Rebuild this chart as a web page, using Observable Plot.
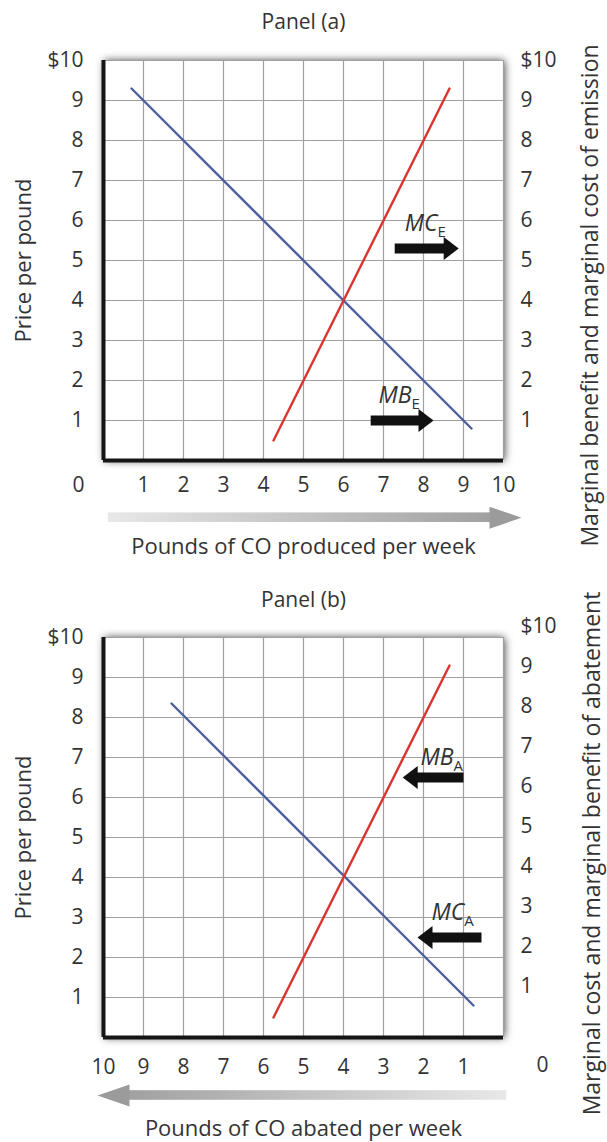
<!DOCTYPE html>
<html>
<head>
<meta charset="utf-8">
<script src="https://cdn.jsdelivr.net/npm/d3@7"></script>
<script src="https://cdn.jsdelivr.net/npm/@observablehq/plot@0.6"></script>
<style>
  html, body { margin: 0; padding: 0; background: #fff; }
  svg { display: block; }
</style>
</head>
<body>
<div id="chart"></div>
<script>
// ---------- data ----------
const priceTicks = [1, 2, 3, 4, 5, 6, 7, 8, 9, 10];
const quantityTicks = [1, 2, 3, 4, 5, 6, 7, 8, 9, 10];
const gridValues = [0, 1, 2, 3, 4, 5, 6, 7, 8, 9, 10];

// Panel (a): pounds of CO produced (q) vs price per pound (p)
const mbEmission = [{q: 0.7, p: 9.3}, {q: 9.2, p: 0.8}];
const mcEmission = [{q: 4.25, p: 0.5}, {q: 8.65, p: 9.3}];
const labelsA = [
  {main: "MC", sub: "E", q: 8.35, p: 5.93},
  {main: "MB", sub: "E", q: 7.7, p: 1.63}
];
const arrowsA = [
  {from: 7.28, to: 8.88, p: 5.3},
  {from: 6.68, to: 8.25, p: 1.0}
];
const flowA = [{from: 0.12, to: 10.45, p: -1.43}];

// Panel (b): pounds of CO abated (q) vs price per pound (p)
const mcAbatement = [{q: 8.3, p: 8.35}, {q: 0.75, p: 0.8}];
const mbAbatement = [{q: 5.75, p: 0.5}, {q: 1.35, p: 9.3}];
const labelsB = [
  {main: "MB", sub: "A", q: 1.25, p: 7.0},
  {main: "MC", sub: "A", q: 0.98, p: 3.13}
];
const arrowsB = [
  {from: 1.0, to: 2.52, p: 6.5},
  {from: 0.55, to: 2.15, p: 2.5}
];
const flowB = [{from: -0.08, to: 10.15, p: -1.45}];

// ---------- styles ----------
const BLUE = "#4f5e9e";
const RED = "#d8352e";
const GRID = "#a0a0a0";
const INK = "#333333";
const FONT = "Open Sans";

function headSymbol(len, half, dir) {
  return {
    draw(ctx) {
      ctx.moveTo(0, 0);
      ctx.lineTo(-dir * len, -half);
      ctx.lineTo(-dir * len, half);
      ctx.closePath();
    }
  };
}

function panel(cfg) {
  const dir = cfg.reverse ? -1 : 1;
  const blackHead = headSymbol(15, 11.5, dir);
  const grayHead = headSymbol(32, 11, dir);
  const fmtPrice = d => (d === 10 ? "$10" : String(d));
  const T = {fill: INK, lineAnchor: "middle"};
  const svg = Plot.plot({
    width: 607,
    height: cfg.height,
    marginTop: cfg.marginTop,
    marginBottom: cfg.marginBottom,
    marginLeft: 103,
    marginRight: 104,
    style: {fontFamily: FONT, background: "white", overflow: "visible"},
    x: {domain: cfg.reverse ? [10, 0] : [0, 10], axis: null},
    y: {domain: [0, 10], axis: null},
    marks: [
      Plot.frame({fill: "white", stroke: "none"}),
      Plot.ruleX(gridValues, {stroke: GRID, strokeWidth: 1.2}),
      Plot.ruleY(gridValues, {stroke: GRID, strokeWidth: 1.2}),
      Plot.ruleX([cfg.reverse ? 10 : 0], {stroke: "#151515", strokeWidth: 4}),
      Plot.ruleY([0], {stroke: "#151515", strokeWidth: 4}),
      Plot.line(cfg.blue, {x: "q", y: "p", stroke: BLUE, strokeWidth: 2.4}),
      Plot.line(cfg.red, {x: "q", y: "p", stroke: RED, strokeWidth: 2.4}),
      // black annotation arrows
      Plot.link(cfg.arrows, {x1: "from", x2: d => d.to - 0.3, y1: "p", y2: "p", stroke: "#111", strokeWidth: 10}),
      Plot.dot(cfg.arrows, {x: "to", y: "p", symbol: blackHead, fill: "#111", stroke: "none", r: 5}),
      // curve labels
      Plot.text(cfg.labels, {...T, x: "q", y: "p", text: "main", textAnchor: "end", fontStyle: "italic", fontSize: 23}),
      Plot.text(cfg.labels, {...T, x: "q", y: "p", text: "sub", textAnchor: "start", dy: 9, fontSize: 15}),
      // gray direction arrow under the x axis
      Plot.rect(cfg.flow, {x1: "from", x2: d => d.to - 0.7, y1: d => d.p - 0.12, y2: d => d.p + 0.12, fill: `url(#flow${cfg.id})`}),
      Plot.dot(cfg.flow, {x: "to", y: "p", symbol: grayHead, fill: "#9b9b9b", stroke: "none", r: 5}),
      // tick labels
      Plot.text(priceTicks, {...T, y: d => d, text: fmtPrice, frameAnchor: "left", textAnchor: "end", dx: -20, fontSize: 21}),
      Plot.text(priceTicks, {...T, y: d => d, text: fmtPrice, frameAnchor: "right", textAnchor: "start", dx: 17, dy: cfg.rightTickDy, fontSize: 21}),
      Plot.text(quantityTicks, {...T, x: d => d, text: d => String(d), frameAnchor: "bottom", textAnchor: "middle", dy: cfg.xTickDy, fontSize: 21}),
      Plot.text(["0"], {...T, text: d => d, frameAnchor: cfg.reverse ? "bottom-right" : "bottom-left", textAnchor: "middle", dx: cfg.zeroDx, dy: cfg.zeroDy, fontSize: 21}),
      // titles
      Plot.text([cfg.title], {...T, text: d => d, frameAnchor: "top", textAnchor: "middle", dy: cfg.titleDy, fontSize: 21}),
      Plot.text([cfg.xTitle], {...T, text: d => d, frameAnchor: "bottom", textAnchor: "middle", dy: cfg.xTitleDy, fontSize: 22}),
      Plot.text(["Price per pound"], {...T, text: d => d, frameAnchor: "left", textAnchor: "middle", rotate: -90, dx: -80, fontSize: 22}),
      Plot.text([cfg.rightTitle], {...T, text: d => d, frameAnchor: "right", textAnchor: "middle", rotate: -90, dx: cfg.rightTitleDx, dy: cfg.rightTitleDy, fontSize: 23})
    ]
  });
  const root = d3.select(svg);
  const light = "#e8e8e8", dark = "#a0a0a0";
  const [c0, c1] = cfg.reverse ? [dark, light] : [light, dark];
  root.insert("defs", ":first-child").html(
    `<filter id="shadow${cfg.id}" x="-10%" y="-10%" width="120%" height="120%">` +
      `<feDropShadow dx="1" dy="0" stdDeviation="4.5" flood-color="#000" flood-opacity="0.75"/>` +
    `</filter>` +
    `<linearGradient id="flow${cfg.id}" x1="0" y1="0" x2="1" y2="0">` +
      `<stop offset="0" stop-color="${c0}"/><stop offset="1" stop-color="${c1}"/>` +
    `</linearGradient>`
  );
  root.select('[aria-label="frame"]').attr("filter", `url(#shadow${cfg.id})`);
  return svg;
}

const chart = document.getElementById("chart");
chart.appendChild(panel({
  id: "A", height: 575, marginTop: 60, marginBottom: 115, reverse: false,
  blue: mbEmission, red: mcEmission, labels: labelsA, arrows: arrowsA, flow: flowA,
  title: "Panel (a)", titleDy: -38,
  xTitle: "Pounds of CO produced per week", xTitleDy: 86,
  rightTitle: "Marginal benefit and marginal cost of emission", rightTitleDx: 87, rightTitleDy: 35,
  rightTickDy: 0, xTickDy: 25, zeroDx: -25, zeroDy: 25
}));
chart.appendChild(panel({
  id: "B", height: 567, marginTop: 62, marginBottom: 105, reverse: true,
  blue: mcAbatement, red: mbAbatement, labels: labelsB, arrows: arrowsB, flow: flowB,
  title: "Panel (b)", titleDy: -37,
  xTitle: "Pounds of CO abated per week", xTitleDy: 91,
  rightTitle: "Marginal cost and marginal benefit of abatement", rightTitleDx: 89, rightTitleDy: 16,
  rightTickDy: -11, xTickDy: 30, zeroDx: 39, zeroDy: 28
}));
</script>
</body>
</html>
